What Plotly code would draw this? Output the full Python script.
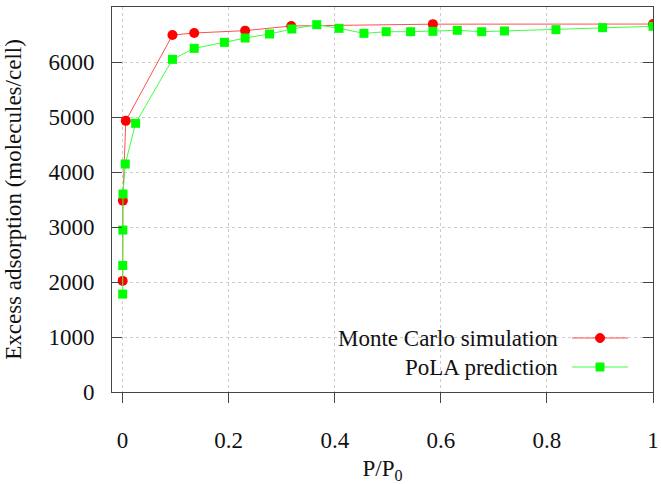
import plotly.graph_objects as go

# Monte Carlo simulation
mc_x = [0.0001, 0.0005, 0.006, 0.094, 0.135, 0.231, 0.318, 0.585, 1.0]
mc_y = [2020, 3480, 4930, 6490, 6527, 6570, 6655, 6688, 6690]

# PoLA prediction
pola_x = [0.0001, 0.0002, 0.0004, 0.0008, 0.005, 0.0245, 0.094, 0.135, 0.192,
          0.231, 0.277, 0.319, 0.366, 0.408, 0.455, 0.497, 0.543, 0.585,
          0.631, 0.677, 0.72, 0.817, 0.905, 1.0]
pola_y = [1780, 2300, 2945, 3600, 4145, 4885, 6048, 6248, 6357, 6436, 6509,
          6600, 6679, 6612, 6521, 6551, 6551, 6557, 6576, 6551, 6564, 6588,
          6624, 6649]

x_ticks = [0, 0.2, 0.4, 0.6, 0.8, 1]
x_tick_text = ["0", "0.2", "0.4", "0.6", "0.8", "1"]
y_ticks = [0, 1000, 2000, 3000, 4000, 5000, 6000, 7000]

series_names = ["Monte Carlo simulation", "PoLA prediction"]

FONT = "Liberation Serif"
FS = 23
RED = "#ff0000"
GREEN = "#00ff00"
TXT = "#111111"

fig = go.Figure()
fig.add_trace(go.Scatter(x=mc_x, y=mc_y, mode="lines+markers", name=series_names[0],
                         line=dict(color="#ff5050", width=1),
                         marker=dict(symbol="circle", size=10, color=RED)))
fig.add_trace(go.Scatter(x=pola_x, y=pola_y, mode="lines+markers", name=series_names[1],
                         line=dict(color="#40ff40", width=1),
                         marker=dict(symbol="square", size=9, color=GREEN)))

L, R, T, B = 112, 653, 7, 392
W, H = 661, 484
pw, ph = R - L, B - T


def px(xp):
    return (xp - L) / pw


def py(yp):
    return (B - yp) / ph


shapes = []
annotations = []
legend_rows = [(338, RED, "#ff5050", "circle", series_names[0]),
               (367, GREEN, "#40ff40", "square", series_names[1])]
for yy, col, lcol, sym, name in legend_rows:
    shapes.append(dict(type="line", xref="paper", yref="paper",
                       x0=px(572), x1=px(628), y0=py(yy), y1=py(yy),
                       line=dict(color=lcol, width=1)))
    if sym == "circle":
        shapes.append(dict(type="circle", xref="paper", yref="paper",
                           x0=px(595.5), x1=px(604.5), y0=py(yy + 4.5), y1=py(yy - 4.5),
                           line=dict(color=col, width=1), fillcolor=col))
    else:
        shapes.append(dict(type="rect", xref="paper", yref="paper",
                           x0=px(596), x1=px(604), y0=py(yy + 4), y1=py(yy - 4),
                           line=dict(color=col, width=1), fillcolor=col))
    annotations.append(dict(xref="paper", yref="paper", x=px(560), y=py(yy),
                            xanchor="right", yanchor="middle", showarrow=False,
                            text=name, font=dict(family=FONT, size=FS, color=TXT)))

fig.update_layout(
    template="none",
    width=W, height=H,
    margin=dict(l=L, r=W - R, t=T, b=H - B),
    plot_bgcolor="white", paper_bgcolor="white",
    showlegend=False,
    font=dict(family=FONT, size=FS, color=TXT),
    shapes=shapes, annotations=annotations,
)
fig.update_xaxes(range=[-0.02, 1.0], tickvals=x_ticks, ticktext=x_tick_text,
                 tickfont=dict(family=FONT, size=FS, color=TXT),
                 ticks="outside", ticklen=10, tickcolor="#444", tickwidth=1,
                 showline=True, linecolor="#444", linewidth=1, mirror=True,
                 showgrid=True, gridcolor="#cccccc", griddash="dot", gridwidth=1,
                 zeroline=False, ticklabelstandoff=17,
                 title=dict(text="P/P<sub>0</sub>", font=dict(family=FONT, size=FS, color=TXT),
                            standoff=15))
fig.update_yaxes(range=[0, 7000], tickvals=y_ticks,
                 tickfont=dict(family=FONT, size=FS, color=TXT),
                 ticks="inside", ticklen=10, tickcolor="#444", tickwidth=1,
                 showline=True, linecolor="#444", linewidth=1, mirror="ticks",
                 showgrid=True, gridcolor="#cccccc", griddash="dot", gridwidth=1,
                 zeroline=False, ticklabelstandoff=12,
                 title=dict(text="Excess adsorption (molecules/cell)",
                            font=dict(family=FONT, size=FS, color=TXT), standoff=20))

fig.write_html("out.html")
